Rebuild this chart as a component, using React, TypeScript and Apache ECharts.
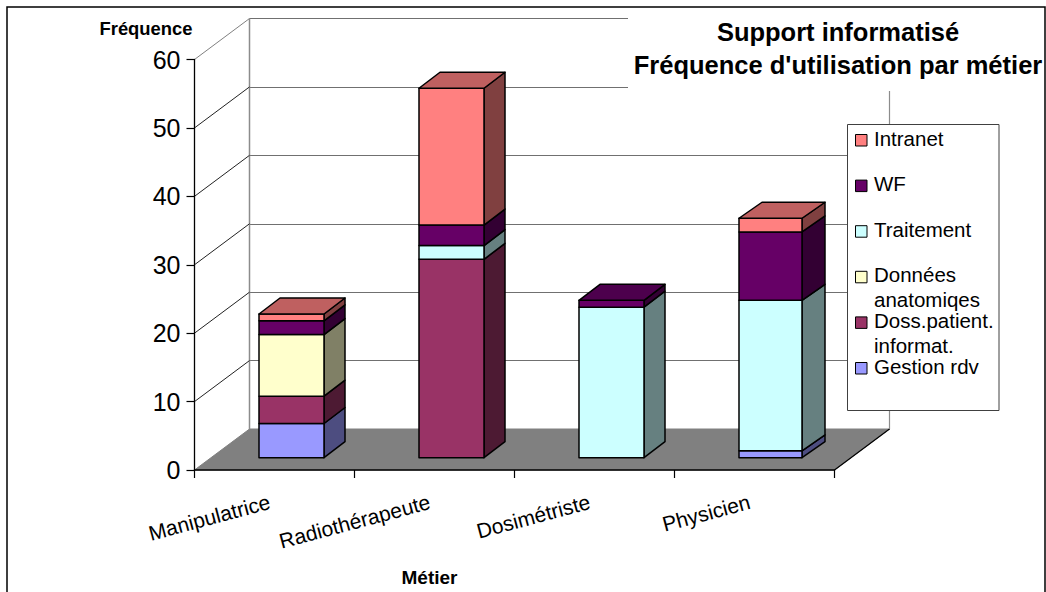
import React, { useEffect, useRef } from "react";
import * as echarts from "echarts";

const categories = ["Manipulatrice", "Radiothérapeute", "Dosimétriste", "Physicien"];
const gestionRdv = [5, 0, 0, 1];
const dossPatient = [4, 29, 0, 0];
const donnees = [9, 0, 0, 0];
const traitement = [0, 2, 22, 22];
const wf = [2, 3, 1, 10];
const intranet = [1, 20, 0, 2];
const yTicks = [0, 10, 20, 30, 40, 50, 60];

const seriesNames = ["Gestion rdv", "Doss.patient. informat.", "Données anatomiqes", "Traitement", "WF", "Intranet"];
const seriesValues = [gestionRdv, dossPatient, donnees, traitement, wf, intranet];
const legendNames = ["Intranet", "WF", "Traitement", "Données\nanatomiqes", "Doss.patient.\ninformat.", "Gestion rdv"];
const legendColors = ["#FF8080", "#660066", "#CCFFFF", "#FFFFCC", "#993366", "#9999FF"];
const frontColors = ["#9999FF", "#993366", "#FFFFCC", "#CCFFFF", "#660066", "#FF8080"];
const sideColors = ["#4D4D80", "#4D1A33", "#808066", "#668080", "#330033", "#804040"];
const topColors = ["#7373BF", "#73264D", "#BFBF99", "#99BFBF", "#4D004D", "#BF6060"];

const LEFT = 194.5, TOP = 59.5, W = 640, H = 410.5;
const WALL_DX = 55, WALL_DY = 41;

export default function App() {
  const ref = useRef<HTMLDivElement>(null);
  useEffect(() => {
    const chart = echarts.init(ref.current!, null, { renderer: "svg" });
    const font = "'Liberation Sans', Arial, sans-serif";

    const barSeries = seriesNames.map((name, s) => {
      const data = categories.map((_, c) => {
        let base = 0;
        for (let k = 0; k < s; k++) base += seriesValues[k][c];
        let lastNonZero = -1;
        seriesValues.forEach((v, k) => {
          if (v[c] > 0) lastNonZero = k;
        });
        return [c, base, base + seriesValues[s][c], lastNonZero === s ? 1 : 0];
      });
      return {
        type: "custom",
        name,
        z: 2,
        xAxisIndex: 0,
        yAxisIndex: 0,
        encode: { x: 0, y: [1, 2] },
        data,
        silent: true,
        renderItem: (_p: any, api: any) => {
          const c = api.value(0);
          const v0 = api.value(1);
          const v1 = api.value(2);
          if (v1 <= v0) return null;
          const isTop = api.value(3) === 1;
          const a = api.coord([c, v0]);
          const b = api.coord([c, v1]);
          const bw = c === 3 ? 63 : 65;
          const dx = c === 3 ? 23 : 21;
          const dy = 16;
          const x0 = a[0] - 15.5;
          const x1 = x0 + bw;
          const y0 = a[1] - 12.3;
          const y1 = b[1] - 12.3;
          const st = (fill: string) => ({ fill, stroke: "#000", lineWidth: 1.5, lineJoin: "round" });
          const children: any[] = [
            { type: "polygon", shape: { points: [[x1, y0], [x1 + dx, y0 - dy], [x1 + dx, y1 - dy], [x1, y1]] }, style: st(sideColors[s]) },
            { type: "polygon", shape: { points: [[x0, y0], [x1, y0], [x1, y1], [x0, y1]] }, style: st(frontColors[s]) },
          ];
          if (isTop) {
            children.push({
              type: "polygon",
              shape: { points: [[x0, y1], [x1, y1], [x1 + dx, y1 - dy], [x0 + dx, y1 - dy]] },
              style: st(topColors[s]),
            });
          }
          return { type: "group", children };
        },
      };
    });

    const wallSeries = {
      type: "custom",
      name: "walls",
      z: 1,
      xAxisIndex: 0,
      yAxisIndex: 0,
      silent: true,
      data: yTicks.map((t) => [0, t]),
      encode: { x: 0, y: 1 },
      renderItem: (_p: any, api: any) => {
        const t = api.value(1);
        const p = api.coord([0, t]);
        const y = p[1];
        const children: any[] = [];
        if (t === 0) {
          children.push({
            type: "polygon",
            shape: { points: [[LEFT, y], [LEFT + WALL_DX, y - WALL_DY], [LEFT + W + WALL_DX, y - WALL_DY], [LEFT + W, y]] },
            style: { fill: "#808080", stroke: "#808080", lineWidth: 1 },
          });
          children.push({
            type: "line",
            shape: { x1: LEFT + W, y1: y, x2: LEFT + W + WALL_DX, y2: y - WALL_DY },
            style: { stroke: "#000", lineWidth: 1.2 },
          });
          children.push({
            type: "line",
            shape: { x1: LEFT + WALL_DX, y1: y - WALL_DY, x2: LEFT + WALL_DX, y2: TOP - WALL_DY },
            style: { stroke: "#8c8c8c", lineWidth: 1.5 },
          });
          children.push({
            type: "line",
            shape: { x1: LEFT + W + WALL_DX, y1: y - WALL_DY, x2: LEFT + W + WALL_DX, y2: TOP - WALL_DY },
            style: { stroke: "#8c8c8c", lineWidth: 1.2 },
          });
        } else {
          children.push({
            type: "line",
            shape: { x1: LEFT, y1: y, x2: LEFT + WALL_DX, y2: y - WALL_DY },
            style: { stroke: t === 60 ? "#808080" : "#222", lineWidth: 1 },
          });
        }
        return { type: "group", children };
      },
    };

    const legendGraphics: any[] = [
      { type: "rect", z: 5, shape: { x: 847.5, y: 124.5, width: 151.5, height: 286 }, style: { fill: "#fff", stroke: "#404040", lineWidth: 1 } },
    ];
    legendNames.forEach((n, i) => {
      const step = 45.6;
      legendGraphics.push({
        type: "rect",
        z: 6,
        shape: { x: 855.5, y: 134.5 + step * i, width: 11.5, height: 11.5 },
        style: { fill: legendColors[i], stroke: "#000", lineWidth: 1 },
      });
      n.split("\n").forEach((line, l) => {
        legendGraphics.push({
          type: "text",
          z: 6,
          x: 874,
          y: 128.5 + step * i + l * 25,
          style: { text: line, fill: "#000", font: `20.5px ${font}`, lineHeight: 19, verticalAlign: "top", align: "left" },
        });
      });
    });

    chart.setOption({
      animation: false,
      backgroundColor: "#fff",
      title: {
        text: "Support informatisé\nFréquence d'utilisation par métier",
        left: 833,
        top: 10,
        textAlign: "center",
        textStyle: { fontFamily: font, fontSize: 25.5, fontWeight: "bold", color: "#000", lineHeight: 33 },
      },
      grid: [
        { left: LEFT, top: TOP, width: W, height: H, outerBoundsMode: "none" },
        { left: LEFT + WALL_DX, top: TOP - WALL_DY, width: W, height: H, outerBoundsMode: "none" },
      ],
      xAxis: [
        {
          type: "category",
          gridIndex: 0,
          data: categories,
          z: 3,
          name: "Métier",
          nameLocation: "middle",
          nameGap: 98,
          nameTextStyle: { fontFamily: font, fontSize: 19, fontWeight: "bold", color: "#000", padding: [0, 170, 0, 0] },
          axisLine: { lineStyle: { color: "#000", width: 1.5 } },
          axisTick: { show: true, length: 8, lineStyle: { color: "#000", width: 1.2 } },
          axisLabel: { rotate: 15, margin: 30, fontFamily: font, fontSize: 21, color: "#000", interval: 0, padding: [0, 5, 0, 0] },
        },
        {
          type: "value",
          gridIndex: 1,
          min: 0,
          max: 1,
          axisLine: { show: false },
          axisTick: { show: false },
          axisLabel: { show: false },
          splitLine: { show: false },
        },
      ],
      yAxis: [
        {
          type: "value",
          gridIndex: 0,
          min: 0,
          max: 60,
          interval: 10,
          z: 3,
          name: "Fréquence",
          nameLocation: "end",
          nameGap: 22,
          nameTextStyle: { fontFamily: font, fontSize: 18.4, fontWeight: "bold", color: "#000", align: "right", padding: [0, 2, 0, 0] },
          axisLine: { show: true, lineStyle: { color: "#000", width: 1.3 } },
          axisTick: { show: true, length: 8, lineStyle: { color: "#000", width: 1.2 } },
          axisLabel: { margin: 14, fontFamily: font, fontSize: 25, color: "#000" },
          splitLine: { show: false },
        },
        {
          type: "value",
          gridIndex: 1,
          min: 0,
          max: 60,
          interval: 10,
          axisLine: { show: false },
          axisTick: { show: false },
          axisLabel: { show: false },
          splitLine: { show: true, lineStyle: { color: "#707070", width: 1.2 } },
        },
      ],
      series: [wallSeries, ...barSeries],
      graphic: [
        { type: "rect", z: 5, shape: { x: 628, y: 10, width: 412, height: 81 }, style: { fill: "#fff" } },
        ...legendGraphics,
        { type: "rect", z: 7, shape: { x: 7, y: 7, width: 1038, height: 600 }, style: { fill: "none", stroke: "#000", lineWidth: 1.5 } },
      ],
    });
    return () => chart.dispose();
  }, []);
  return <div ref={ref} style={{ position: "absolute", left: 0, top: 0, width: 1046, height: 592 }} />;
}
